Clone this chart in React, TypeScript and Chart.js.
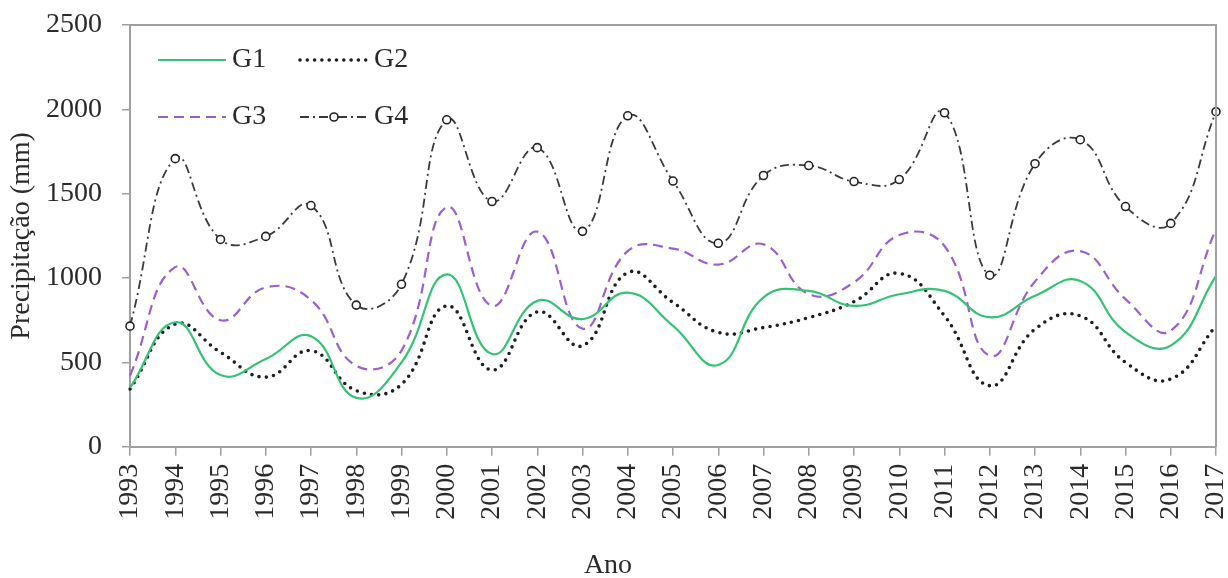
import React, { useEffect, useRef } from 'react';
import { Chart, registerables } from 'chart.js';

Chart.register(...registerables);

const years = ['1993', '1994', '1995', '1996', '1997', '1998', '1999', '2000', '2001', '2002', '2003', '2004', '2005', '2006', '2007', '2008', '2009', '2010', '2011', '2012', '2013', '2014', '2015', '2016', '2017'];

const g1 = [350, 738, 425, 520, 655, 290, 500, 1022, 550, 865, 757, 914, 717, 485, 886, 924, 835, 904, 924, 768, 895, 983, 680, 600, 1013];
const g2 = [343, 727, 560, 413, 570, 333, 370, 835, 455, 800, 599, 1032, 855, 678, 707, 766, 860, 1028, 776, 362, 697, 776, 500, 402, 717];
const g3 = [420, 1065, 750, 945, 870, 480, 570, 1420, 835, 1275, 700, 1160, 1175, 1080, 1200, 905, 975, 1255, 1190, 540, 980, 1160, 875, 688, 1290];
const g4 = [715, 1708, 1229, 1247, 1430, 840, 963, 1938, 1454, 1773, 1277, 1962, 1575, 1206, 1608, 1667, 1572, 1584, 1980, 1017, 1678, 1820, 1424, 1324, 1986];

const seriesNames = ['G1', 'G2', 'G3', 'G4'];
const yMin = 0;
const yMax = 2500;
const yStep = 500;

const SERIF = '"Liberation Serif", "Times New Roman", serif';
const TEXT = '#2a2a2a';
const AXIS = '#a0a0a0';

const framePlugin = {
  id: 'frame',
  afterDraw(chart: any) {
    const { ctx, chartArea } = chart;
    ctx.save();
    ctx.strokeStyle = AXIS;
    ctx.lineWidth = 2;
    ctx.beginPath();
    ctx.moveTo(chartArea.left, chartArea.top);
    ctx.lineTo(chartArea.right, chartArea.top);
    ctx.lineTo(chartArea.right, chartArea.bottom);
    ctx.stroke();
    ctx.restore();
  },
};

const legendPlugin = {
  id: 'gridLegend',
  afterDraw(chart: any) {
    const { ctx, chartArea } = chart;
    const cols = [chartArea.left + 28, chartArea.left + 170];
    const rows = [chartArea.top + 35, chartArea.top + 92];
    const lineLen = 68;
    chart.data.datasets.forEach((ds: any, i: number) => {
      const x = cols[i % 2];
      const y = rows[Math.floor(i / 2)];
      ctx.save();
      ctx.strokeStyle = ds.borderColor;
      ctx.lineWidth = ds.borderWidth;
      ctx.lineCap = ds.borderCapStyle || 'butt';
      ctx.setLineDash(ds.borderDash || []);
      ctx.beginPath();
      ctx.moveTo(x, y);
      ctx.lineTo(x + lineLen, y);
      ctx.stroke();
      if (ds.pointRadius > 0) {
        ctx.setLineDash([]);
        ctx.beginPath();
        ctx.arc(x + lineLen / 2, y, ds.pointRadius, 0, Math.PI * 2);
        ctx.fillStyle = ds.pointBackgroundColor;
        ctx.fill();
        ctx.lineWidth = ds.pointBorderWidth;
        ctx.strokeStyle = ds.pointBorderColor;
        ctx.stroke();
      }
      ctx.fillStyle = TEXT;
      ctx.font = `28px ${SERIF}`;
      ctx.textBaseline = 'middle';
      ctx.textAlign = 'left';
      ctx.fillText(ds.label, x + lineLen + 6, y);
      ctx.restore();
    });
  },
};

export default function App() {
  const canvasRef = useRef<HTMLCanvasElement>(null);

  useEffect(() => {
    document.body.style.margin = '0';
    const canvas = canvasRef.current;
    if (!canvas) return;
    const font = { family: SERIF, size: 28 };
    const chart = new Chart(canvas, {
      type: 'line',
      data: {
        labels: years,
        datasets: [
          {
            label: seriesNames[0],
            data: g1,
            borderColor: '#34c274',
            borderWidth: 2.2,
            pointRadius: 0,
            tension: 0.45,
            fill: false,
          },
          {
            label: seriesNames[1],
            data: g2,
            borderColor: '#1e1e1e',
            borderWidth: 3.6,
            borderDash: [0, 7.3],
            borderCapStyle: 'round',
            pointRadius: 0,
            tension: 0.45,
            fill: false,
          },
          {
            label: seriesNames[2],
            data: g3,
            borderColor: '#9a5fd0',
            borderWidth: 2.2,
            borderDash: [10, 6],
            pointRadius: 0,
            tension: 0.45,
            fill: false,
          },
          {
            label: seriesNames[3],
            data: g4,
            borderColor: '#3a3a3a',
            borderWidth: 1.8,
            borderDash: [9, 4, 2, 4],
            pointRadius: 4,
            pointBorderWidth: 1.6,
            pointBackgroundColor: '#ffffff',
            pointBorderColor: '#222222',
            tension: 0.45,
            fill: false,
          },
        ] as any,
      },
      options: {
        animation: false,
        responsive: true,
        maintainAspectRatio: false,
        layout: { padding: { top: 25, right: 12, left: 0, bottom: 0 } },
        plugins: {
          legend: { display: false },
          tooltip: { enabled: false },
          title: {
            display: true,
            position: 'bottom',
            text: 'Ano',
            color: TEXT,
            font: { family: SERIF, size: 28, weight: 'normal' },
            padding: { top: 0, bottom: -4 },
          },
        },
        scales: {
          x: {
            type: 'category',
            grid: {
              display: true,
              drawOnChartArea: false,
              drawTicks: true,
              tickLength: 9,
              color: AXIS,
              lineWidth: 1.5,
            },
            border: { display: true, color: AXIS, width: 2 },
            ticks: {
              font,
              color: TEXT,
              minRotation: 90,
              maxRotation: 90,
              autoSkip: false,
              padding: 8,
            },
            afterFit: (s: any) => {
              s.height = 101.6;
              s.paddingLeft = 0;
              s.paddingRight = 0;
            },
          },
          y: {
            min: yMin,
            max: yMax,
            grid: {
              display: true,
              drawOnChartArea: false,
              drawTicks: true,
              tickLength: 8,
              color: AXIS,
              lineWidth: 1.5,
            },
            border: { display: true, color: AXIS, width: 2 },
            ticks: {
              stepSize: yStep,
              font,
              color: TEXT,
              padding: 20,
              callback: (v: any) => String(v),
            },
            title: {
              display: true,
              text: 'Precipitação (mm)',
              color: TEXT,
              font: { family: SERIF, size: 28 },
              padding: { top: 5, bottom: 0 },
            },
            afterFit: (s: any) => {
              s.width = 130;
              s.paddingTop = 0;
              s.paddingBottom = 0;
            },
          },
        },
      } as any,
      plugins: [framePlugin, legendPlugin],
    });
    return () => chart.destroy();
  }, []);

  return (
    <div style={{ width: 1228, height: 578, position: 'relative' }}>
      <canvas ref={canvasRef} />
    </div>
  );
}
